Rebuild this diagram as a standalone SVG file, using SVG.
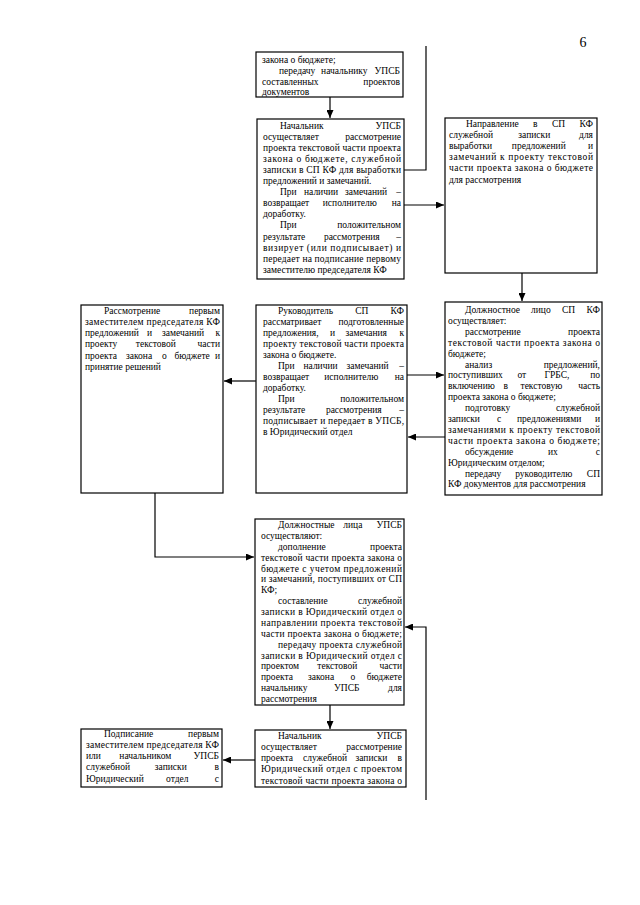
<svg xmlns="http://www.w3.org/2000/svg" width="640" height="905" viewBox="0 0 640 905">
<style>
.box{fill:#fff;stroke:#000;stroke-width:1.2}
.t{font-family:"Liberation Serif","Times New Roman",serif;font-size:9.5px;fill:#000}
.e{text-anchor:end}
.m{text-anchor:middle}
.c{fill:none;stroke:#000;stroke-width:1.2}
.pg{font-family:"Liberation Serif","Times New Roman",serif;font-size:14px;fill:#000}
</style>
<defs>
<marker id="ah" markerUnits="userSpaceOnUse" markerWidth="8" markerHeight="7" refX="8" refY="3.5" orient="auto">
<path d="M0,0 L8,3.5 L0,7 z" fill="#000"/>
</marker>
</defs>
<rect width="640" height="905" fill="#fff"/>
<text class="pg" x="583" y="47" text-anchor="middle">6</text>

<g id="connectors">
<path class="c" d="M330,97 V118" marker-end="url(#ah)"/>
<path class="c" d="M426,46 V170 H404"/>
<path class="c" d="M404,205 H444" marker-end="url(#ah)"/>
<path class="c" d="M522,273 V301" marker-end="url(#ah)"/>
<path class="c" d="M407,375 H444" marker-end="url(#ah)"/>
<path class="c" d="M445,437 H408" marker-end="url(#ah)"/>
<path class="c" d="M256,381 H224" marker-end="url(#ah)"/>
<path class="c" d="M155,493 V557 H254" marker-end="url(#ah)"/>
<path class="c" d="M426,800 V627 H405" marker-end="url(#ah)"/>
<path class="c" d="M330,705 V729" marker-end="url(#ah)"/>
<path class="c" d="M255,760 H223" marker-end="url(#ah)"/>
</g>

<g id="n1">
<rect class="box" x="256" y="52" width="147" height="45"/>
<text class="t" x="262" y="63">закона о бюджете;</text>
<text class="t" y="74"><tspan x="279">передачу </tspan><tspan x="345.5" class="m">начальнику </tspan><tspan x="400" class="e">УПСБ</tspan></text>
<text class="t" y="84.5"><tspan x="262">составленных </tspan><tspan x="400" class="e">проектов</tspan></text>
<text class="t" x="262" y="95">документов</text>
</g>

<g id="n2">
<rect class="box" x="257" y="119" width="147" height="160"/>
<text class="t" y="128.5"><tspan x="280">Начальник </tspan><tspan x="401" class="e">УПСБ</tspan></text>
<text class="t" y="139.6"><tspan x="263">осуществляет </tspan><tspan x="401" class="e">рассмотрение</tspan></text>
<text class="t" x="263" y="150.7" textLength="138" lengthAdjust="spacing">проекта текстовой части проекта</text>
<text class="t" x="263" y="161.8" textLength="138" lengthAdjust="spacing">закона о бюджете, служебной</text>
<text class="t" x="263" y="172.9" textLength="138" lengthAdjust="spacing">записки в СП КФ для выработки</text>
<text class="t" x="263" y="184">предложений и замечаний.</text>
<text class="t" y="195.1"><tspan x="280">При </tspan><tspan x="304">наличии </tspan><tspan x="345">замечаний </tspan><tspan x="401" class="e">–</tspan></text>
<text class="t" y="206.2"><tspan x="263">возвращает </tspan><tspan x="351" class="m">исполнителю </tspan><tspan x="401" class="e">на</tspan></text>
<text class="t" x="263" y="217.3">доработку.</text>
<text class="t" y="228.4"><tspan x="280">При </tspan><tspan x="401" class="e">положительном</tspan></text>
<text class="t" y="239.5"><tspan x="263">результате </tspan><tspan x="353" class="m">рассмотрения </tspan><tspan x="401" class="e">–</tspan></text>
<text class="t" x="263" y="250.6" textLength="138" lengthAdjust="spacing">визирует (или подписывает) и</text>
<text class="t" x="263" y="261.7" textLength="138" lengthAdjust="spacing">передает на подписание первому</text>
<text class="t" x="263" y="272.8">заместителю председателя КФ</text>
</g>

<g id="n3">
<rect class="box" x="445" y="118" width="152" height="155"/>
<text class="t" y="126.5"><tspan x="466">Направление </tspan><tspan x="533">в </tspan><tspan x="552">СП </tspan><tspan x="593" class="e">КФ</tspan></text>
<text class="t" y="137.7"><tspan x="449">служебной </tspan><tspan x="535.5" class="m">записки </tspan><tspan x="593" class="e">для</tspan></text>
<text class="t" y="148.9"><tspan x="449">выработки </tspan><tspan x="540" class="m">предложений </tspan><tspan x="593" class="e">и</tspan></text>
<text class="t" x="449" y="160.1" textLength="144" lengthAdjust="spacing">замечаний к проекту текстовой</text>
<text class="t" x="449" y="171.3" textLength="144" lengthAdjust="spacing">части проекта закона о бюджете</text>
<text class="t" x="449" y="182.5">для рассмотрения</text>
</g>

<g id="n4">
<rect class="box" x="81" y="305" width="142" height="188"/>
<text class="t" y="313.5"><tspan x="104">Рассмотрение </tspan><tspan x="220" class="e">первым</tspan></text>
<text class="t" x="85" y="324.8" textLength="135" lengthAdjust="spacing">заместителем председателя КФ</text>
<text class="t" y="336.1"><tspan x="85">предложений </tspan><tspan x="147">и </tspan><tspan x="162">замечаний </tspan><tspan x="220" class="e">к</tspan></text>
<text class="t" y="347.4"><tspan x="85">проекту </tspan><tspan x="157" class="m">текстовой </tspan><tspan x="220" class="e">части</tspan></text>
<text class="t" y="358.7"><tspan x="85">проекта </tspan><tspan x="126">закона </tspan><tspan x="162">о </tspan><tspan x="174.5">бюджете </tspan><tspan x="220" class="e">и</tspan></text>
<text class="t" x="85" y="370">принятие решений</text>
</g>

<g id="n5">
<rect class="box" x="256" y="305" width="151" height="188"/>
<text class="t" y="313.5"><tspan x="278">Руководитель </tspan><tspan x="363" class="m">СП </tspan><tspan x="404" class="e">КФ</tspan></text>
<text class="t" y="324.5"><tspan x="263">рассматривает </tspan><tspan x="404" class="e">подготовленные</tspan></text>
<text class="t" y="335.5"><tspan x="263">предложения, </tspan><tspan x="330">и </tspan><tspan x="345.5">замечания </tspan><tspan x="404" class="e">к</tspan></text>
<text class="t" x="263" y="346.5" textLength="141" lengthAdjust="spacing">проекту текстовой части проекта</text>
<text class="t" x="263" y="357.5">закона о бюджете.</text>
<text class="t" y="368.5"><tspan x="278">При </tspan><tspan x="303.5">наличии </tspan><tspan x="346.5">замечаний </tspan><tspan x="404" class="e">–</tspan></text>
<text class="t" y="379.5"><tspan x="263">возвращает </tspan><tspan x="352.5" class="m">исполнителю </tspan><tspan x="404" class="e">на</tspan></text>
<text class="t" x="263" y="390.5">доработку.</text>
<text class="t" y="401.5"><tspan x="278">При </tspan><tspan x="404" class="e">положительном</tspan></text>
<text class="t" y="412.5"><tspan x="263">результате </tspan><tspan x="355" class="m">рассмотрения </tspan><tspan x="404" class="e">–</tspan></text>
<text class="t" x="263" y="423.5" textLength="141" lengthAdjust="spacing">подписывает и передает в УПСБ,</text>
<text class="t" x="263" y="434.5">в Юридический отдел</text>
</g>

<g id="n6">
<rect class="box" x="445" y="302" width="157" height="193"/>
<text class="t" y="313"><tspan x="465">Должностное </tspan><tspan x="531">лицо </tspan><tspan x="562">СП </tspan><tspan x="600" class="e">КФ</tspan></text>
<text class="t" x="448" y="323.9">осуществляет:</text>
<text class="t" y="334.8"><tspan x="465">рассмотрение </tspan><tspan x="600" class="e">проекта</tspan></text>
<text class="t" x="448" y="345.7" textLength="152" lengthAdjust="spacing">текстовой части проекта закона о</text>
<text class="t" x="448" y="356.6">бюджете;</text>
<text class="t" y="367.5"><tspan x="465">анализ </tspan><tspan x="600" class="e">предложений,</tspan></text>
<text class="t" y="378.4"><tspan x="448">поступивших </tspan><tspan x="517.5">от </tspan><tspan x="544.5">ГРБС, </tspan><tspan x="600" class="e">по</tspan></text>
<text class="t" y="389.3"><tspan x="448">включению </tspan><tspan x="503.5">в </tspan><tspan x="520.5">текстовую </tspan><tspan x="600" class="e">часть</tspan></text>
<text class="t" x="448" y="400.2">проекта закона о бюджете;</text>
<text class="t" y="411.1"><tspan x="465">подготовку </tspan><tspan x="600" class="e">служебной</tspan></text>
<text class="t" y="422"><tspan x="448">записки </tspan><tspan x="497">с </tspan><tspan x="517">предложениями </tspan><tspan x="600" class="e">и</tspan></text>
<text class="t" x="448" y="432.9" textLength="152" lengthAdjust="spacing">замечаниями к проекту текстовой</text>
<text class="t" x="448" y="443.8" textLength="152" lengthAdjust="spacing">части проекта закона о бюджете;</text>
<text class="t" y="454.7"><tspan x="465">обсуждение </tspan><tspan x="554" class="m">их </tspan><tspan x="600" class="e">с</tspan></text>
<text class="t" x="448" y="465.6">Юридическим отделом;</text>
<text class="t" y="476.5"><tspan x="465">передачу </tspan><tspan x="545" class="m">руководителю </tspan><tspan x="600" class="e">СП</tspan></text>
<text class="t" x="448" y="487.4">КФ документов для рассмотрения</text>
</g>

<g id="n7">
<rect class="box" x="255" y="519" width="149" height="186"/>
<text class="t" y="528"><tspan x="278">Должностные </tspan><tspan x="354" class="m">лица </tspan><tspan x="402" class="e">УПСБ</tspan></text>
<text class="t" x="261" y="538.9">осуществляют:</text>
<text class="t" y="549.8"><tspan x="278">дополнение </tspan><tspan x="402" class="e">проекта</tspan></text>
<text class="t" x="261" y="560.6" textLength="141" lengthAdjust="spacing">текстовой части проекта закона о</text>
<text class="t" x="261" y="571.5" textLength="141" lengthAdjust="spacing">бюджете с учетом предложений</text>
<text class="t" x="261" y="582.4" textLength="141" lengthAdjust="spacing">и замечаний, поступивших от СП</text>
<text class="t" x="261" y="593.3">КФ;</text>
<text class="t" y="604.1"><tspan x="278">составление </tspan><tspan x="402" class="e">служебной</tspan></text>
<text class="t" x="261" y="615" textLength="141" lengthAdjust="spacing">записки в Юридический отдел о</text>
<text class="t" x="261" y="625.9" textLength="141" lengthAdjust="spacing">направлении проекта текстовой</text>
<text class="t" x="261" y="636.8" textLength="141" lengthAdjust="spacing">части проекта закона о бюджете;</text>
<text class="t" x="278" y="647.6" textLength="124" lengthAdjust="spacing">передачу проекта служебной</text>
<text class="t" x="261" y="658.5" textLength="141" lengthAdjust="spacing">записки в Юридический отдел с</text>
<text class="t" y="669.4"><tspan x="261">проектом </tspan><tspan x="338.5" class="m">текстовой </tspan><tspan x="402" class="e">части</tspan></text>
<text class="t" y="680.3"><tspan x="261">проекта </tspan><tspan x="308">закона </tspan><tspan x="350.5">о </tspan><tspan x="402" class="e">бюджете</tspan></text>
<text class="t" y="691.1"><tspan x="261">начальнику </tspan><tspan x="348" class="m">УПСБ </tspan><tspan x="402" class="e">для</tspan></text>
<text class="t" x="261" y="702">рассмотрения</text>
</g>

<g id="n8">
<rect class="box" x="81" y="729" width="141" height="58"/>
<text class="t" y="736.5"><tspan x="104">Подписание </tspan><tspan x="219" class="e">первым</tspan></text>
<text class="t" x="86" y="747.8" textLength="133" lengthAdjust="spacing">заместителем председателя КФ</text>
<text class="t" y="759.1"><tspan x="86">или </tspan><tspan x="146.5" class="m">начальником </tspan><tspan x="219" class="e">УПСБ</tspan></text>
<text class="t" y="770.4"><tspan x="86">служебной </tspan><tspan x="172" class="m">записки </tspan><tspan x="219" class="e">в</tspan></text>
<text class="t" y="781.7"><tspan x="86">Юридический </tspan><tspan x="178.5" class="m">отдел </tspan><tspan x="219" class="e">с</tspan></text>
</g>

<g id="n9">
<rect class="box" x="255" y="730" width="151" height="57"/>
<text class="t" y="738.5"><tspan x="278">Начальник </tspan><tspan x="402" class="e">УПСБ</tspan></text>
<text class="t" y="749.8"><tspan x="261">осуществляет </tspan><tspan x="402" class="e">рассмотрение</tspan></text>
<text class="t" y="761.1"><tspan x="261">проекта </tspan><tspan x="303">служебной </tspan><tspan x="355.5">записки </tspan><tspan x="402" class="e">в</tspan></text>
<text class="t" x="261" y="772.4" textLength="141" lengthAdjust="spacing">Юридический отдел с проектом</text>
<text class="t" x="261" y="783.7" textLength="141" lengthAdjust="spacing">текстовой части проекта закона о</text>
</g>
</svg>
